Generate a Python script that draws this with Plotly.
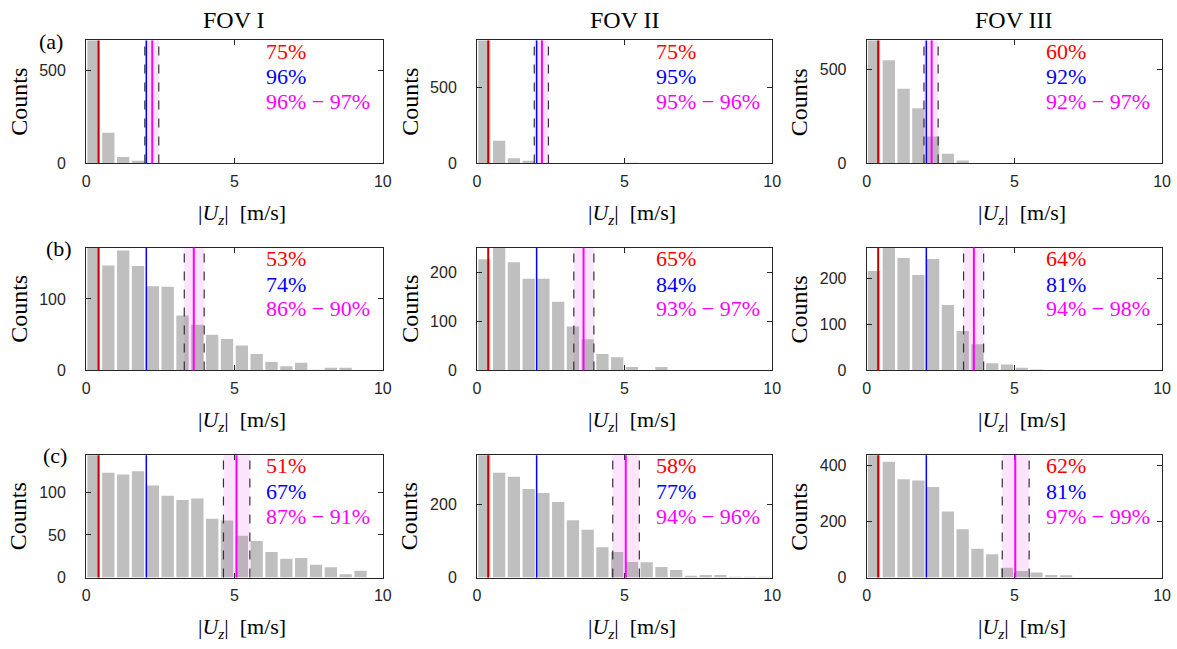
import plotly.graph_objects as go
from plotly.subplots import make_subplots

# ---------------- data ----------------
bin_centers = [0.25, 0.75, 1.25, 1.75, 2.25, 2.75, 3.25, 3.75, 4.25, 4.75,
               5.25, 5.75, 6.25, 6.75, 7.25, 7.75, 8.25, 8.75, 9.25, 9.75]

fov_titles = ["FOV I", "FOV II", "FOV III"]
row_labels = ["(a)", "(b)", "(c)"]

counts_a_I   = [760, 165, 35, 14, 4, 1, 0, 0, 0, 0, 0, 0, 0, 0, 0, 0, 0, 0, 0, 0]
counts_a_II  = [900, 149, 34, 17, 5, 0, 3, 0, 3, 3, 4, 3, 0, 0, 0, 0, 0, 0, 0, 0]
counts_a_III = [720, 549, 397, 294, 143, 51, 16, 0, 0, 0, 0, 0, 0, 0, 0, 0, 0, 0, 0, 0]

counts_b_I   = [190, 147, 168, 146, 118, 117, 77, 64, 50, 44, 35, 23, 12, 6, 11, 1, 4, 4, 0, 0]
counts_b_II  = [228, 262, 222, 188, 188, 141, 90, 64, 34, 27, 7, 0, 7, 0, 0, 0, 0, 0, 0, 0]
counts_b_III = [217, 280, 245, 208, 243, 143, 86, 57, 16, 13, 6, 2, 0, 0, 0, 0, 0, 0, 0, 0]

counts_c_I   = [150, 123, 121, 125, 108, 96, 91, 93, 69, 67, 49, 43, 30, 22, 23, 15, 12, 4, 8, 0]
counts_c_II  = [350, 287, 276, 243, 232, 207, 157, 131, 83, 70, 43, 42, 29, 21, 5, 7, 7, 2, 2, 2]
counts_c_III = [460, 412, 350, 345, 322, 235, 172, 103, 83, 35, 23, 18, 9, 8, 0, 0, 0, 0, 0, 0]

counts = [[counts_a_I, counts_a_II, counts_a_III],
          [counts_b_I, counts_b_II, counts_b_III],
          [counts_c_I, counts_c_II, counts_c_III]]

# y-axis upper limits and ticks
y_max = [[660, 806, 655], [172, 252, 268], [143.6, 335, 435]]
y_ticks = [[[0, 500], [0, 500], [0, 500]],
           [[0, 100], [0, 100, 200], [0, 100, 200]],
           [[0, 50, 100], [0, 200], [0, 200, 400]]]
x_ticks = [0, 5, 10]

# threshold lines (|Uz| values)
red_x = [0.42, 0.38, 0.39]
blue_x = [2.03, 2.02, 2.02]
magenta_x = [[2.23, 2.20, 2.20], [3.63, 3.61, 3.63], [5.07, 5.04, 5.03]]
band_lo = [[1.98, 1.94, 1.94], [3.31, 3.28, 3.28], [4.63, 4.60, 4.59]]
band_hi = [[2.45, 2.42, 2.42], [3.98, 3.96, 3.96], [5.52, 5.50, 5.50]]

pct_red = [["75%", "75%", "60%"], ["53%", "65%", "64%"], ["51%", "58%", "62%"]]
pct_blue = [["96%", "95%", "92%"], ["74%", "84%", "81%"], ["67%", "77%", "81%"]]
pct_mag = [["96% − 97%", "95% − 96%", "92% − 97%"],
           ["86% − 90%", "93% − 97%", "94% − 98%"],
           ["87% − 91%", "94% − 96%", "97% − 99%"]]

# ---------------- layout geometry ----------------
W, H = 1177, 649
col_px = [(83, 383), (478.3, 776.7), (872.3, 1171)]
row_px = [(41, 165.7), (251, 375.7), (461.7, 585.7)]

SERIF = "Liberation Serif, Times New Roman, serif"
SANS = "Liberation Sans, Arial, sans-serif"
AXC = "#262626"

fig = make_subplots(rows=3, cols=3)

shapes = []
annotations = []
for r in range(3):
    for c in range(3):
        n = r * 3 + c + 1
        xa = "x" if n == 1 else f"x{n}"
        ya = "y" if n == 1 else f"y{n}"
        fig.add_trace(go.Bar(x=bin_centers, y=counts[r][c],
                             marker=dict(color="rgba(128,128,128,0.5)", line=dict(width=0)),
                             showlegend=False, hoverinfo="skip"),
                      row=r + 1, col=c + 1)
        xd = [col_px[c][0] / W, col_px[c][1] / W]
        yd = [1 - row_px[r][1] / H, 1 - row_px[r][0] / H]
        axis_common = dict(showline=True, mirror="ticks", linecolor=AXC, linewidth=1,
                           ticks="inside", ticklen=5, tickcolor=AXC, showgrid=False,
                           zeroline=False, tickfont=dict(family=SANS, size=16, color=AXC))
        fig.update_layout({
            ("xaxis" if n == 1 else f"xaxis{n}"): dict(domain=xd, range=[0, 10], tickvals=x_ticks,
                                                        ticklabelstandoff=3, **axis_common),
            ("yaxis" if n == 1 else f"yaxis{n}"): dict(domain=yd, range=[0, y_max[r][c]],
                                                        tickvals=y_ticks[r][c],
                                                        ticklabelstandoff=16, **axis_common),
        })
        yref = f"{ya} domain"
        # pink band
        shapes.append(dict(type="rect", xref=xa, yref=yref, x0=band_lo[r][c], x1=band_hi[r][c],
                           y0=0, y1=1, fillcolor="rgb(253,228,253)", line=dict(width=0),
                           layer="below"))
        # dashed band edges
        for xv in (band_lo[r][c], band_hi[r][c]):
            shapes.append(dict(type="line", xref=xa, yref=yref, x0=xv, x1=xv, y0=0, y1=1,
                               line=dict(color="#333333", width=1.2, dash="dash")))
        shapes.append(dict(type="line", xref=xa, yref=yref, x0=red_x[c], x1=red_x[c], y0=0, y1=1,
                           line=dict(color="#C80000", width=2)))
        shapes.append(dict(type="line", xref=xa, yref=yref, x0=blue_x[c], x1=blue_x[c], y0=0, y1=1,
                           line=dict(color="#0000FF", width=1.5)))
        shapes.append(dict(type="line", xref=xa, yref=yref, x0=magenta_x[r][c], x1=magenta_x[r][c],
                           y0=0, y1=1, line=dict(color="#FF00FF", width=2)))
        # percentage texts
        for txt, col, yy in ((pct_red[r][c], "#FF0000", 0.914),
                             (pct_blue[r][c], "#0000FF", 0.703),
                             (pct_mag[r][c], "#FF00FF", 0.503)):
            annotations.append(dict(text=txt, xref=xa, yref=yref, x=6.0, y=yy,
                                    xanchor="left", yanchor="middle", showarrow=False,
                                    font=dict(family=SERIF, size=22, color=col)))
        # y label
        annotations.append(dict(text="Counts", xref="paper", yref="paper",
                                x=(col_px[c][0] - 68) / W, y=1 - (row_px[r][0] + row_px[r][1]) / 2 / H,
                                xanchor="center", yanchor="middle", textangle=-90, showarrow=False,
                                font=dict(family=SERIF, size=24, color="black")))
        # x label
        annotations.append(dict(text="|<i>U</i><sub><i>z</i></sub>|  [m/s]", xref="paper", yref="paper",
                                x=((col_px[c][0] + col_px[c][1]) / 2 + 8) / W,
                                y=1 - (row_px[r][1] + 51) / H,
                                xanchor="center", yanchor="middle", showarrow=False,
                                font=dict(family=SERIF, size=22, color="black")))

for c in range(3):
    annotations.append(dict(text=fov_titles[c], xref="paper", yref="paper",
                            x=((col_px[c][0] + col_px[c][1]) / 2) / W, y=1 - 20 / H,
                            xanchor="center", yanchor="middle", showarrow=False,
                            font=dict(family=SERIF, size=24, color="black")))
label_pos = [(48, 42), (56, 252), (52, 462)]
for r in range(3):
    annotations.append(dict(text=row_labels[r], xref="paper", yref="paper",
                            x=label_pos[r][0] / W, y=1 - label_pos[r][1] / H,
                            xanchor="center", yanchor="middle", showarrow=False,
                            font=dict(family=SERIF, size=22, color="black")))

fig.update_layout(width=W, height=H, margin=dict(l=0, r=0, t=0, b=0),
                  paper_bgcolor="white", plot_bgcolor="white", bargap=0.17,
                  shapes=shapes, annotations=annotations)

fig.write_html("out.html", config={"displayModeBar": False},
               post_script="document.body.style.margin='0px';")
